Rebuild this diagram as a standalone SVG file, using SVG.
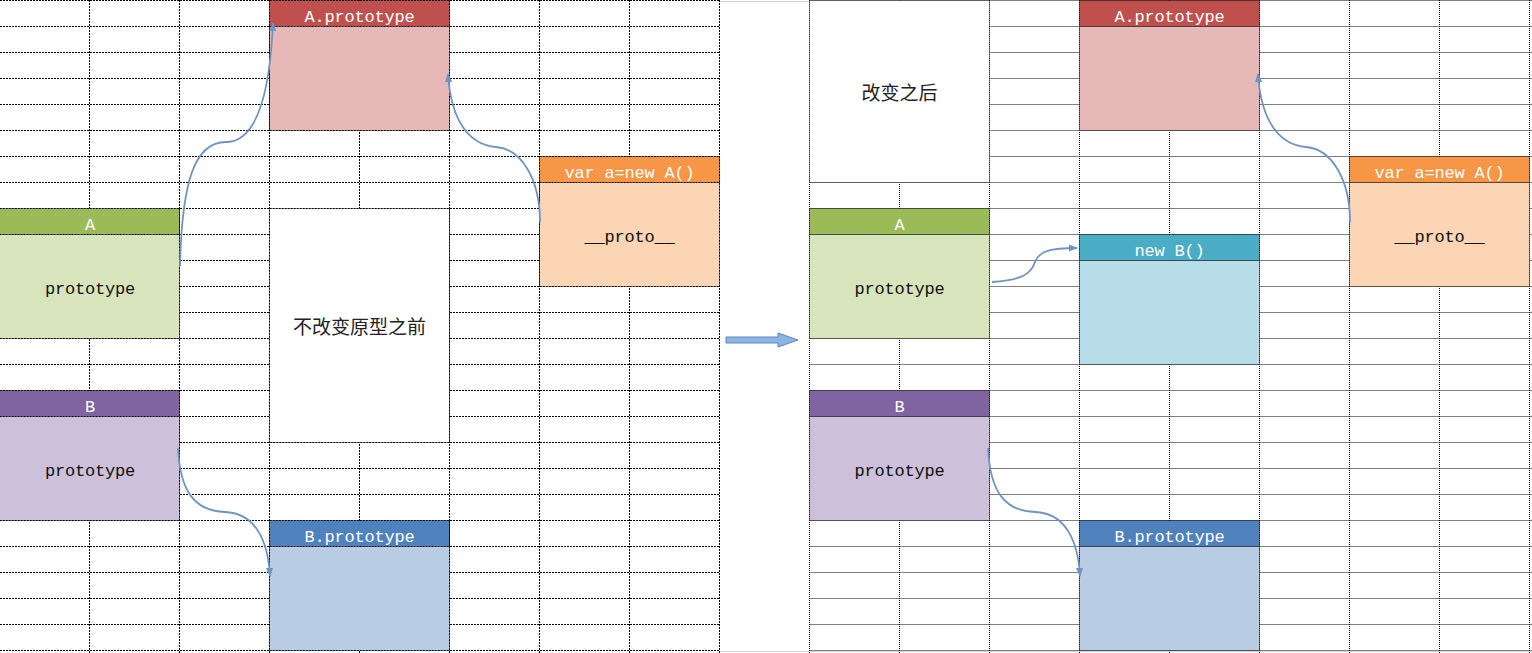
<svg xmlns="http://www.w3.org/2000/svg" width="1532" height="653" viewBox="0 0 1532 653">
<style>
.gl{fill:none;stroke:#000;stroke-width:1;stroke-dasharray:2 1}
.gr{fill:none;stroke:#000;stroke-width:1;stroke-dasharray:1 1}
.bl{stroke:#000;stroke-width:1;stroke-dasharray:2 1}
.br{stroke:#000;stroke-width:1;stroke-dasharray:1 1}
.ht{font-family:"Liberation Mono",monospace;font-size:17px;letter-spacing:-0.2px;fill:#fff;text-anchor:middle}
.bt{font-family:"Liberation Mono",monospace;font-size:17px;letter-spacing:-0.2px;fill:#111;text-anchor:middle}
.cj{font-family:"Noto Sans CJK SC",sans-serif;font-size:19px;fill:#222;text-anchor:middle}
.con{fill:none;stroke:#7094C2;stroke-width:1.8;marker-end:url(#ah)}
</style>
<defs>
<marker id="ah" viewBox="0 0 10 10" refX="9" refY="5" markerWidth="9" markerHeight="9" markerUnits="userSpaceOnUse" orient="auto">
<path d="M0,1 L10,5 L0,9 z" fill="#7094C2"/>
</marker>
</defs>
<rect x="0" y="0" width="1532" height="653" fill="#fff"/>
<g id="grid">
<path class="gl" d="M0 0.5H720M0 26.5H720M0 52.5H720M0 78.5H720M0 104.5H720M0 130.5H720M0 156.5H720M0 182.5H720M0 208.5H720M0 234.5H720M0 260.5H720M0 286.5H720M0 312.5H720M0 338.5H720M0 364.5H720M0 390.5H720M0 416.5H720M0 442.5H720M0 468.5H720M0 494.5H720M0 520.5H720M0 546.5H720M0 572.5H720M0 598.5H720M0 624.5H720M0 650.5H720M89.5 0V653M179.5 0V653M269.5 0V653M359.5 0V653M449.5 0V653M539.5 0V653M629.5 0V653M719.5 0V653"/>
<path class="gr" d="M809.5 0.5H1532M809.5 26.5H1532M809.5 52.5H1532M809.5 78.5H1532M809.5 104.5H1532M809.5 130.5H1532M809.5 156.5H1532M809.5 182.5H1532M809.5 208.5H1532M809.5 234.5H1532M809.5 260.5H1532M809.5 286.5H1532M809.5 312.5H1532M809.5 338.5H1532M809.5 364.5H1532M809.5 390.5H1532M809.5 416.5H1532M809.5 442.5H1532M809.5 468.5H1532M809.5 494.5H1532M809.5 520.5H1532M809.5 546.5H1532M809.5 572.5H1532M809.5 598.5H1532M809.5 624.5H1532M809.5 650.5H1532M809.5 0V653M899.5 0V653M989.5 0V653M1079.5 0V653M1169.5 0V653M1259.5 0V653M1349.5 0V653M1439.5 0V653M1529.5 0V653"/>
<path d="M720 1.5H810M720 651.5H1532" stroke="#d4d4d4" stroke-width="1" fill="none"/>
</g>
<g id="note-before">
<rect class="bl" x="269.5" y="208.5" width="180" height="234" fill="#fff"/>
<text class="cj" x="359.5" y="334">不改变原型之前</text>
</g>
<g id="note-after">
<rect class="br" x="809.5" y="0.5" width="180" height="182" fill="#fff"/>
<text class="cj" x="899.5" y="100">改变之后</text>
</g>
<g id="L-Aproto">
<rect class="bl" x="269.5" y="0.5" width="180" height="26" fill="#C0504D"/>
<rect class="bl" x="269.5" y="26.5" width="180" height="104" fill="#E6B8B7"/>
<text class="ht" x="359.5" y="22">A.prototype</text>
</g>
<g id="L-A">
<rect class="bl" x="-0.5" y="208.5" width="180" height="26" fill="#9BBB59"/>
<rect class="bl" x="-0.5" y="234.5" width="180" height="104" fill="#D8E4BC"/>
<text class="ht" x="90" y="230">A</text>
<text class="bt" x="90" y="294">prototype</text>
</g>
<g id="L-B">
<rect class="bl" x="-0.5" y="390.5" width="180" height="26" fill="#8064A2"/>
<rect class="bl" x="-0.5" y="416.5" width="180" height="104" fill="#CCC0DA"/>
<text class="ht" x="90" y="412">B</text>
<text class="bt" x="90" y="476">prototype</text>
</g>
<g id="L-Bproto">
<rect class="bl" x="269.5" y="520.5" width="180" height="26" fill="#4F81BD"/>
<rect class="bl" x="269.5" y="546.5" width="180" height="104" fill="#B8CCE4"/>
<text class="ht" x="359.5" y="542">B.prototype</text>
</g>
<g id="L-a">
<rect class="bl" x="539.5" y="156.5" width="180" height="26" fill="#F79646"/>
<rect class="bl" x="539.5" y="182.5" width="180" height="104" fill="#FCD5B4"/>
<text class="ht" x="629.5" y="178">var a=new A()</text>
<text class="bt" x="629.5" y="242">__proto__</text>
</g>
<g id="R-Aproto">
<rect class="br" x="1079.5" y="0.5" width="180" height="26" fill="#C0504D"/>
<rect class="br" x="1079.5" y="26.5" width="180" height="104" fill="#E6B8B7"/>
<text class="ht" x="1169.5" y="22">A.prototype</text>
</g>
<g id="R-A">
<rect class="br" x="809.5" y="208.5" width="180" height="26" fill="#9BBB59"/>
<rect class="br" x="809.5" y="234.5" width="180" height="104" fill="#D8E4BC"/>
<text class="ht" x="899.5" y="230">A</text>
<text class="bt" x="899.5" y="294">prototype</text>
</g>
<g id="R-newB">
<rect class="br" x="1079.5" y="234.5" width="180" height="26" fill="#4BACC6"/>
<rect class="br" x="1079.5" y="260.5" width="180" height="104" fill="#B7DEE8"/>
<text class="ht" x="1169.5" y="256">new B()</text>
</g>
<g id="R-B">
<rect class="br" x="809.5" y="390.5" width="180" height="26" fill="#8064A2"/>
<rect class="br" x="809.5" y="416.5" width="180" height="104" fill="#CCC0DA"/>
<text class="ht" x="899.5" y="412">B</text>
<text class="bt" x="899.5" y="476">prototype</text>
</g>
<g id="R-Bproto">
<rect class="br" x="1079.5" y="520.5" width="180" height="26" fill="#4F81BD"/>
<rect class="br" x="1079.5" y="546.5" width="180" height="104" fill="#B8CCE4"/>
<text class="ht" x="1169.5" y="542">B.prototype</text>
</g>
<g id="R-a">
<rect class="br" x="1349.5" y="156.5" width="180" height="26" fill="#F79646"/>
<rect class="br" x="1349.5" y="182.5" width="180" height="104" fill="#FCD5B4"/>
<text class="ht" x="1439.5" y="178">var a=new A()</text>
<text class="bt" x="1439.5" y="242">__proto__</text>
</g>
<g id="connectors">
<path class="con" d="M180,266 C182,180 195,142 226,142 C258,142 270,90 273,23"/>
<path class="con" d="M540,222 C540,180 522,149 496,147 C470,145 451,122 448,74"/>
<path class="con" d="M178,448 C180,492 195,511 225,512 C255,513 268,540 270,576"/>
<path class="con" d="M1350,222 C1350,180 1332,149 1306,147 C1280,145 1261,122 1258,74"/>
<path class="con" d="M992,282 C1022,280 1031,274 1035,262 C1039,251 1050,248 1077,248"/>
<path class="con" d="M988,448 C990,492 1005,511 1035,512 C1065,513 1078,540 1080,576"/>
<polygon points="726,337 778,337 778,333 798,340 778,347 778,343 726,343" fill="#8EB4E3" stroke="#5A85C0" stroke-width="1"/>
</g>
</svg>
